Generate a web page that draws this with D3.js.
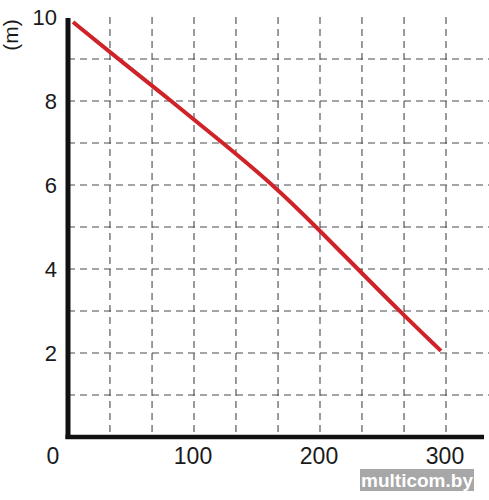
<!DOCTYPE html>
<html>
<head>
<meta charset="utf-8">
<script src="https://cdn.jsdelivr.net/npm/d3@7"></script>
<style>
  html, body { margin: 0; padding: 0; background: #fff; }
  svg { display: block; }
</style>
</head>
<body>
<div id="viz"></div>
<script>
// curve: flow (x) vs head in metres (y)
const flowValues = [4, 40, 82, 123, 163, 197, 230, 263, 296];
const headValues = [9.88, 9, 8, 7, 6, 5, 4, 3, 2.05];
const xTickLabels = [0, 100, 200, 300];
const yTickLabels = [2, 4, 6, 8, 10];
const xGridValues = [33.3, 66.7, 100, 133.3, 166.7, 200, 233.3, 266.7, 300];
const yGridValues = [1, 2, 3, 4, 5, 6, 7, 8, 9];

const width = 489, height = 500;
const svg = d3.select('#viz').append('svg')
  .attr('width', width)
  .attr('height', height);

const x = d3.scaleLinear().domain([0, 330]).range([68, 483.8]);
const y = d3.scaleLinear().domain([0, 10]).range([437, 17]);

const font = 'Liberation Sans, Arial, sans-serif';

// dashed grid
const grid = svg.append('g').attr('stroke', '#4a4a4a').attr('stroke-width', 1.1)
  .attr('stroke-dasharray', '7,5');
grid.selectAll('line.v').data(xGridValues).enter().append('line')
  .attr('class', 'v')
  .attr('x1', d => x(d)).attr('x2', d => x(d))
  .attr('y1', y(10)).attr('y2', y(0));
grid.selectAll('line.h').data(yGridValues).enter().append('line')
  .attr('class', 'h')
  .attr('x1', x(0)).attr('x2', width)
  .attr('y1', d => y(d)).attr('y2', d => y(d));

// axes lines
svg.append('line')
  .attr('x1', x(0)).attr('x2', x(0))
  .attr('y1', y(10) + 1).attr('y2', y(0) + 2)
  .attr('stroke', '#111').attr('stroke-width', 5);
svg.append('line')
  .attr('x1', x(0) - 2.5).attr('x2', 484)
  .attr('y1', y(0)).attr('y2', y(0))
  .attr('stroke', '#111').attr('stroke-width', 4.5);

// tick labels
svg.selectAll('text.xt').data(xTickLabels).enter().append('text')
  .attr('class', 'xt')
  .attr('x', d => d === 0 ? x(0) - 15 : x(d) - 1)
  .attr('y', 464)
  .attr('text-anchor', 'middle')
  .attr('font-family', font)
  .attr('font-size', 23)
  .attr('fill', '#1a1a1a')
  .text(d => d);

svg.selectAll('text.yt').data(yTickLabels).enter().append('text')
  .attr('class', 'yt')
  .attr('x', 57)
  .attr('y', d => y(d) + 8)
  .attr('text-anchor', 'end')
  .attr('font-family', font)
  .attr('font-size', 22)
  .attr('fill', '#1a1a1a')
  .text(d => d);

svg.append('text')
  .attr('transform', 'translate(18,35) rotate(-90)')
  .attr('text-anchor', 'middle')
  .attr('font-family', font)
  .attr('font-size', 21)
  .attr('fill', '#1a1a1a')
  .text('(m)');

// curve
const pts = flowValues.map((f, i) => [f, headValues[i]]);
const line = d3.line()
  .x(d => x(d[0]))
  .y(d => y(d[1]))
  .curve(d3.curveBasis);
svg.append('path')
  .datum(pts)
  .attr('d', line)
  .attr('fill', 'none')
  .attr('stroke', '#cf2229')
  .attr('stroke-width', 4)
  .attr('stroke-linecap', 'butt');

// watermark
svg.append('rect')
  .attr('x', 360).attr('y', 469).attr('width', 114).attr('height', 22)
  .attr('fill', '#8a8a8a').attr('opacity', 0.75);
svg.append('text')
  .attr('x', 417).attr('y', 487)
  .attr('text-anchor', 'middle')
  .attr('font-family', font)
  .attr('font-size', 19)
  .attr('font-weight', 'bold')
  .attr('fill', '#fff')
  .text('multicom.by');
</script>
</body>
</html>
